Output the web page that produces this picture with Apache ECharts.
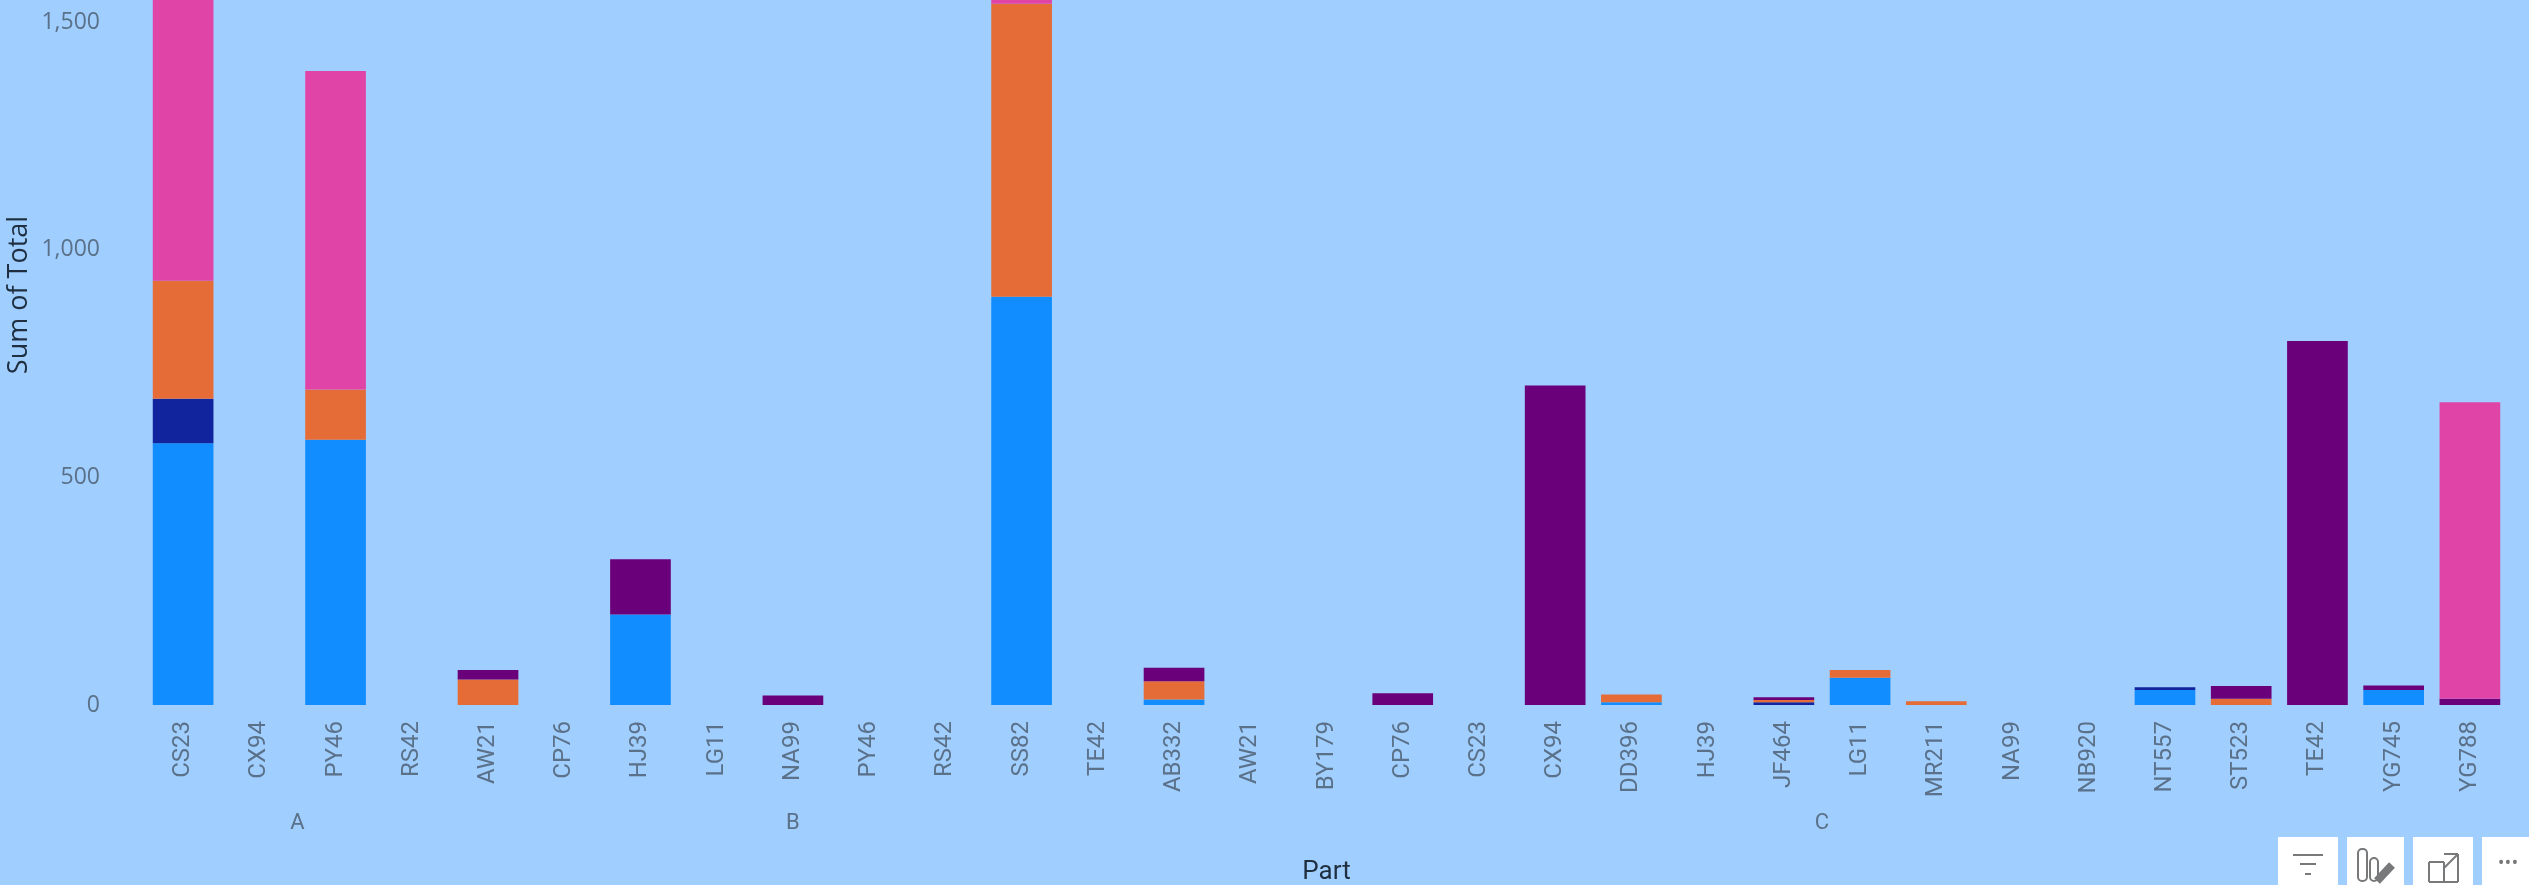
<!DOCTYPE html>
<html>
<head>
<meta charset="utf-8">
<style>html,body{margin:0;padding:0;background:#9FCEFF}#c{width:2529px;height:885px}</style>
<script src="https://cdn.jsdelivr.net/npm/echarts@6/dist/echarts.min.js"></script>
</head>
<body>
<div id="c"></div>
<script>
const categories = ['CS23','CX94','PY46','RS42','AW21','CP76','HJ39','LG11','NA99','PY46','RS42','SS82','TE42','AB332','AW21','BY179','CP76','CS23','CX94','DD396','HJ39','JF464','LG11','MR211','NA99','NB920','NT557','ST523','TE42','YG745','YG788'];
const groupNames = ['A','B','C'];
const groupSizes = [4,9,18];
const blueValues   = [575,0,583,0,0,0,199,0,0,0,0,897,0,12,0,0,0,0,0,6,0,0,60,0,0,0,33,0,0,33,0];
const navyValues   = [98,0,0,0,0,0,0,0,0,0,0,0,0,0,0,0,0,0,0,0,0,6,0,0,0,0,6,0,0,0,0];
const orangeValues = [259,0,110,0,56,0,0,0,0,0,0,644,0,40,0,0,0,0,0,17,0,5,17,8,0,0,0,14,0,0,0];
const purpleValues = [0,0,0,0,21,0,121,0,21,0,0,0,0,30,0,0,26,0,702,0,0,6,0,0,0,0,0,28,800,10,14];
const pinkValues   = [690,0,700,0,0,0,0,0,0,0,0,20,0,0,0,0,0,0,0,0,0,0,0,0,0,0,0,0,0,0,651];
const seriesNames = ['Blue','Navy','Orange','Purple','Pink'];
const seriesValues = [blueValues,navyValues,orangeValues,purpleValues,pinkValues];
const seriesColors = ['#118DFF','#12239E','#E66C37','#6B007B','#E044A7'];
const yTicks = {min:0,max:1549,interval:500};

const groupCenters = [];
let acc = 0;
groupSizes.forEach(s => { groupCenters.push(acc + s/2); acc += s; });

const tickColor = '#5b7189';
const titleColor = '#1f2f40';
const iconColor = '#77797b';
const btn = (x,w) => ({type:'rect',shape:{x:x,y:837,width:w,height:48},style:{fill:'#ffffff'}});
const ln = (x1,y1,x2,y2) => ({type:'line',shape:{x1,y1,x2,y2},style:{stroke:iconColor,lineWidth:2}});

const chart = echarts.init(document.getElementById('c'));
chart.setOption({
  animation:false,
  backgroundColor:'#9FCEFF',
  grid:{left:145,right:21,top:0,bottom:180,containLabel:false,outerBoundsMode:'none'},
  xAxis:[
    {type:'category',data:categories,position:'bottom',
     axisLine:{show:false},axisTick:{show:false},
     axisLabel:{rotate:90,interval:0,margin:16,color:tickColor,fontFamily:'Roboto',fontSize:24,padding:[5,0,0,0]},
     name:'Part',nameLocation:'middle',nameGap:154,
     nameTextStyle:{color:titleColor,fontFamily:'Roboto',fontSize:26}},
    {type:'value',min:0,max:categories.length,position:'bottom',
     axisLine:{show:false},axisTick:{show:false},splitLine:{show:false},
     axisLabel:{customValues:groupCenters,margin:107,color:tickColor,fontFamily:'Roboto',fontSize:22,
       formatter:v=>groupNames[groupCenters.indexOf(v)]}}
  ],
  yAxis:{type:'value',min:yTicks.min,max:yTicks.max,interval:yTicks.interval,
    axisLine:{show:false},axisTick:{show:false},splitLine:{show:false},
    axisLabel:{showMaxLabel:false,margin:45,color:tickColor,fontFamily:'Open Sans',fontSize:23,padding:[6,0,0,0],
      formatter:v=>v.toLocaleString('en-US')}},
  series:seriesNames.map((n,i)=>({
    name:n,type:'bar',stack:'total',xAxisIndex:0,barCategoryGap:'20.4%',
    data:seriesValues[i].map(v=>v===0?null:v),
    itemStyle:{color:seriesColors[i]},clip:true
  })),
  graphic:[
    {type:'text',x:19,y:295,rotation:Math.PI/2,
     style:{text:'Sum of Total',fill:titleColor,font:'500 27px "Open Sans"',textAlign:'center',textVerticalAlign:'middle'}},
    btn(2278,60),btn(2347,57),btn(2413,60),btn(2482,47),
    ln(2293,855,2323,855),ln(2300,864,2316,864),ln(2305,874,2311,874),
    {type:'rect',shape:{x:2358,y:849,width:9,height:32,r:4},style:{fill:'none',stroke:iconColor,lineWidth:2}},
    {type:'rect',shape:{x:2370,y:858,width:8,height:23,r:4},style:{fill:'none',stroke:iconColor,lineWidth:2}},
    {type:'line',shape:{x1:2377,y1:881,x2:2392,y2:865},style:{stroke:iconColor,lineWidth:8}},
    ln(2429,862,2429,882),ln(2429,882,2458,882),ln(2429,862,2444,862),ln(2444,862,2444,882),
    ln(2444,854,2458,854),ln(2458,854,2458,882),ln(2444,868,2457,855),
    {type:'text',x:2508,y:864,style:{text:'•••',fill:iconColor,font:'18px "Open Sans"',textAlign:'center',textVerticalAlign:'middle'}}
  ]
});
</script>
</body>
</html>
